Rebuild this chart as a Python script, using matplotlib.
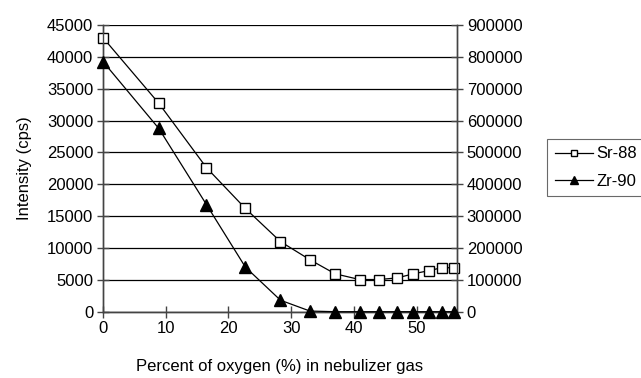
import matplotlib
matplotlib.use("Agg")
import matplotlib.pyplot as plt
from matplotlib.lines import Line2D

plt.rcParams['font.family'] = ['Liberation Sans', 'DejaVu Sans']

oxygen = [0, 8.9, 16.5, 22.7, 28.3, 33.0, 37.0, 40.9, 44.0, 46.9, 49.5, 52.0, 54.0, 56.0]
sr88 = [43000, 32700, 22600, 16200, 11000, 8150, 5950, 5050, 5050, 5300, 5950, 6450, 6900, 6900]
zr90 = [785000, 575000, 336000, 140000, 36000, 2000, 0, 0, 0, 0, 0, 0, 0, 0]
left_ticks = list(range(0, 45001, 5000))
right_ticks = list(range(0, 900001, 100000))
x_ticks = [0, 10, 20, 30, 40, 50]

fig = plt.figure(figsize=(6.41, 3.78), dpi=100)
ax = fig.add_axes([0.1607, 0.1754, 0.5523, 0.7586])
ax2 = ax.twinx()

fs = 12
ax.set_xlim(0, 56.45)
ax.set_ylim(0, 45000)
ax2.set_ylim(0, 900000)
ax.set_yticks(left_ticks)
ax2.set_yticks(right_ticks)
ax.set_xticks(x_ticks)
for y in left_ticks:
    ax.axhline(y, color='black', lw=0.9, zorder=0)

ax.plot(oxygen, sr88, color='black', lw=0.9, marker='s', ms=7,
        mfc='white', mec='black', mew=1.0, zorder=3, clip_on=False)
ax2.plot(oxygen, zr90, color='black', lw=0.9, marker='^', ms=8,
         mfc='black', mec='black', zorder=3, clip_on=False)

for a in (ax, ax2):
    for s in a.spines.values():
        s.set_linewidth(1.0)
        s.set_color('#444444')
    a.spines['top'].set_visible(False)
    a.tick_params(direction='inout', length=8, width=1.0, labelsize=fs, pad=3, colors='#444444', labelcolor='black')

ax.set_ylabel('Intensity (cps)', fontsize=fs, labelpad=11)
ax.set_xlabel('Percent of oxygen (%) in nebulizer gas', fontsize=fs, labelpad=16)

handles = [Line2D([], [], color='black', lw=0.9, marker='s', ms=5, mfc='white', mec='black'),
           Line2D([], [], color='black', lw=0.9, marker='^', ms=6, mfc='black', mec='black')]
leg = fig.legend(handles, ['Sr-88', 'Zr-90'], loc='upper left',
                 bbox_to_anchor=(547/641, 1 - 139/378), fontsize=fs,
                 frameon=True, fancybox=False, edgecolor='#444444',
                 handlelength=2.3, handletextpad=0.2, borderpad=0.45,
                 labelspacing=0.75, borderaxespad=0)
leg.get_frame().set_linewidth(0.8)

fig.savefig('out.png', dpi=100)
